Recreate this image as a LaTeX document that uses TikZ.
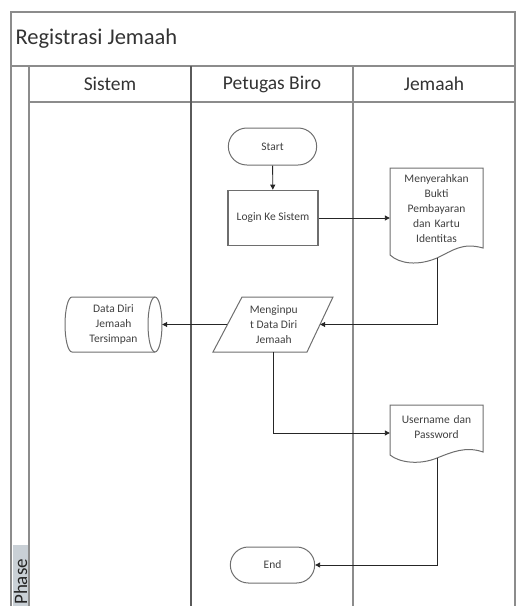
\documentclass[tikz,border=0pt]{standalone}
\usepackage{fontspec}
\setmainfont{Carlito}
\usetikzlibrary{arrows.meta,shapes.geometric,shapes.misc,calc}

\definecolor{framegray}{HTML}{8C8C8C}
\definecolor{lanedark}{HTML}{5A5A5A}
\definecolor{shapegray}{HTML}{6E6E6E}
\definecolor{phasebg}{HTML}{C9D0D6}

\tikzset{
  frameline/.style={draw=framegray, line width=1.8pt},
  laneline/.style={draw=lanedark, line width=2.4pt},
  outline/.style={draw=shapegray, line width=1pt},
  small/.style={font=\fontsize{11.5}{15}\selectfont, text=black!75},
  term/.style={rounded rectangle, outline, small, minimum width=95pt, minimum height=37pt},
  procbox/.style={rectangle, draw=shapegray, line width=1.6pt, small, minimum width=90pt, minimum height=55pt},
  doctext/.style={rectangle, small, align=center, text width=85pt, inner sep=4pt},
  boxtext/.style={rectangle, small, align=center, minimum height=55pt, inner sep=0pt},
  conn/.style={draw=black!85, line width=0.9pt, -{Triangle[length=5pt,width=5pt]}},
  heading/.style={font=\fontsize{19.5}{22}\selectfont, text=black!80},
}

\begin{document}
\begin{tikzpicture}[x=1pt, y=-1pt]
\useasboundingbox (0,0) rectangle (519,606);

% swimlane frame
\fill[phasebg] (13,545) rectangle (28,606);
\draw[frameline] (11,606) -- (11,12) -- (515,12) -- (515,606);
\draw[frameline] (11,66) -- (515,66);
\draw[frameline] (29,66) -- (29,606);
\draw[frameline] (29,102) -- (515,102);
\draw[laneline] (191,66) -- (191,606);
\draw[frameline] (353,66) -- (353,606);

\node[anchor=west, font=\fontsize{22.5}{26}\selectfont, text=black!80] (title) at (12,39) {Registrasi Jemaah};
\node[heading] (hsistem) at (110,84) {Sistem};
\node[heading] (hpetugas) at (272,84) {Petugas Biro};
\node[heading] (hjemaah) at (434,84) {Jemaah};
\node[rotate=90, anchor=south west, font=\fontsize{19}{22}\selectfont, text=black!85, inner sep=0pt] (phase) at (27.5,605) {Phase};

% flow nodes
\node[term] (start) at (272.5,146.5) {Start};
\node[procbox] (login) at (273,218) {Login Ke Sistem};

% document: payment proof and ID card
\draw[outline] (390,168) -- (483,168) -- (483,248)
  .. controls (462,242) and (452,251) .. (437,258)
  .. controls (418,266) and (400,264) .. (390,255) -- cycle;
\node[doctext] (doc1) at (436.5,209) {Menyerahkan\\Bukti\\Pembayaran\\dan Kartu\\Identitas};
\coordinate (doc1out) at (437,258);

% input parallelogram
\draw[outline] (242,297) -- (333,297) -- (307,352) -- (213,352) -- cycle;
\node[boxtext, minimum width=92.5pt] (input) at (273.75,324.5) {Menginpu\\t Data Diri\\Jemaah};

% stored data (horizontal cylinder)
\draw[outline] (155,297) -- (72,297) arc[start angle=90, end angle=270, x radius=7pt, y radius=27.5pt]
  -- (155,352);
\draw[outline] (155,324.5) ellipse[x radius=7pt, y radius=27.5pt];
\node[boxtext, minimum width=97pt] (stored) at (113.5,324.5) {Data Diri\\Jemaah\\Tersimpan};

% document: username and password
\draw[outline] (390,405) -- (483,405) -- (483,452)
  .. controls (466,446) and (452,452) .. (437,458)
  .. controls (420,465) and (400,463) .. (390,455) -- cycle;
\node[doctext] (doc2) at (436.5,427) {Username dan\\Password};
\coordinate (doc2out) at (437,458);

\node[term, minimum width=91pt, minimum height=36pt] (end) at (272.5,565) {End};

% connectors
\draw[conn] (start) -- (login);
\draw[conn] (login.east) -- (login.east -| doc1.west);
\draw[conn] (doc1out) |- (input.east);
\draw[conn] (input.west) -- (stored.east);
\draw[conn] (input.south) |- ([yshift=-6pt]doc2.west);
\draw[conn] (doc2out) |- (end.east);
\end{tikzpicture}
\end{document}
